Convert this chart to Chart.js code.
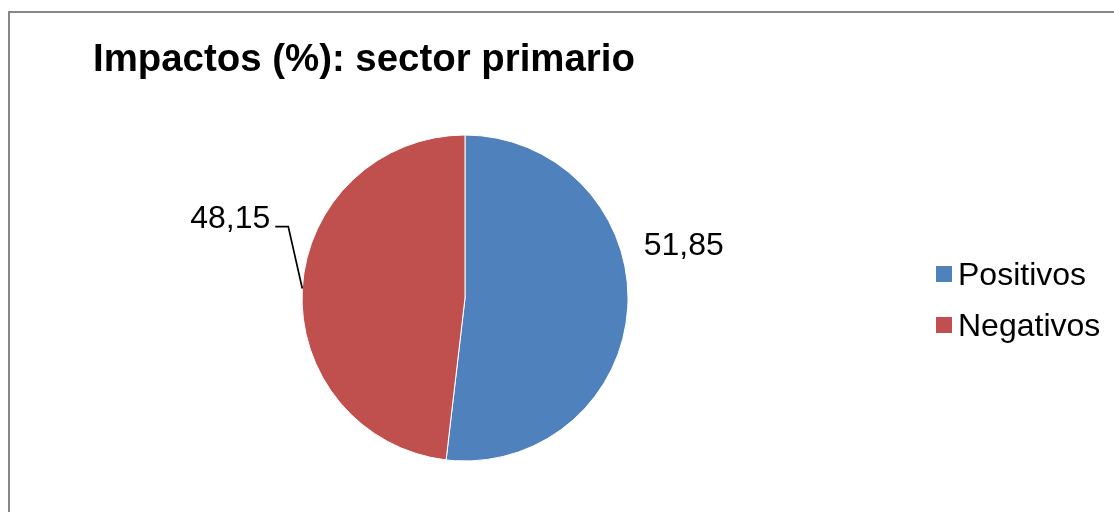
<!DOCTYPE html>
<html>
<head>
<meta charset="utf-8">
<title>Impactos sector primario</title>
<script src="https://cdn.jsdelivr.net/npm/chart.js@4.4.1/dist/chart.umd.min.js"></script>
<style>
  html, body { margin: 0; padding: 0; background: #fff; overflow: hidden; }
  #wrap { position: relative; width: 1114px; height: 512px; }
  #frame {
    position: absolute; left: 8px; top: 11px; width: 1200px; height: 600px;
    border: 2px solid #878787; box-sizing: border-box;
  }
  #pie { position: absolute; left: 0; top: 0; }
</style>
</head>
<body>
<div id="wrap">
  <div id="frame"></div>
  <canvas id="pie" width="1114" height="512"></canvas>
</div>
<script>
const FONT = '"Liberation Sans", Arial, Helvetica, sans-serif';

const chartTitle = 'Impactos (%): sector primario';
const categories = ['Positivos', 'Negativos'];
const shares = [51.85, 48.15];
const sliceColors = ['#4F81BD', '#C0504D'];

// label placement, relative to the slice's outer mid point
const labelOffsets = [
  { dx: 16, dy: -52, leader: false },
  { dx: -27, dy: -62, leader: true }
];

function fmt(v) {
  return v.toFixed(2).replace('.', ',');
}

// title, value labels with leader line and the legend
const decorations = {
  id: 'decorations',
  afterDraw(chart) {
    const ctx = chart.ctx;
    const meta = chart.getDatasetMeta(0);
    ctx.save();

    ctx.fillStyle = '#000';
    ctx.font = 'bold 38.4px ' + FONT;
    ctx.textBaseline = 'alphabetic';
    ctx.textAlign = 'left';
    ctx.fillText(chartTitle, 93, 71);

    ctx.font = '32px ' + FONT;
    meta.data.forEach((arc, i) => {
      const p = arc.getProps(['x', 'y', 'startAngle', 'endAngle', 'outerRadius'], true);
      const mid = (p.startAngle + p.endAngle) / 2;
      const ex = p.x + Math.cos(mid) * p.outerRadius;
      const ey = p.y + Math.sin(mid) * p.outerRadius;
      const off = labelOffsets[i];
      const text = fmt(chart.data.datasets[0].data[i]);
      if (off.leader) {
        const kx = ex + off.dx + 13;
        const ky = ey + off.dy;
        ctx.strokeStyle = '#000';
        ctx.lineWidth = 1.7;
        ctx.beginPath();
        ctx.moveTo(ex, ey);
        ctx.lineTo(kx, ky);
        ctx.lineTo(ex + off.dx, ky);
        ctx.stroke();
        ctx.textAlign = 'right';
        ctx.fillText(text, ex + off.dx - 5, ky + 1);
      } else {
        ctx.textAlign = 'left';
        ctx.fillText(text, ex + off.dx, ey + off.dy);
      }
    });

    // legend
    ctx.textAlign = 'left';
    chart.data.labels.forEach((lab, i) => {
      const y = 274 + i * 51;
      ctx.fillStyle = chart.data.datasets[0].backgroundColor[i];
      ctx.fillRect(936, y - 8, 16, 16);
      ctx.fillStyle = '#000';
      ctx.fillText(lab, 958, y + 11);
    });

    ctx.restore();
  }
};

new Chart(document.getElementById('pie'), {
  type: 'pie',
  data: {
    labels: categories,
    datasets: [{
      data: shares,
      backgroundColor: sliceColors,
      borderColor: '#ffffff',
      borderWidth: 1
    }]
  },
  options: {
    responsive: false,
    animation: false,
    layout: { padding: { left: 301.5, right: 485.5, top: 134.5, bottom: 50.5 } },
    plugins: {
      legend: { display: false },
      title: { display: false },
      tooltip: { enabled: false }
    }
  },
  plugins: [decorations]
});
</script>
</body>
</html>
